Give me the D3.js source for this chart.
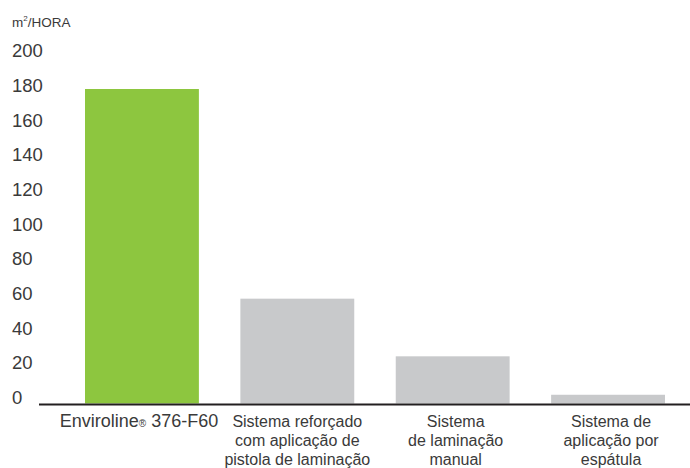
<!DOCTYPE html>
<html>
<head>
<meta charset="utf-8">
<script src="https://cdn.jsdelivr.net/npm/d3@7"></script>
<style>
  body { margin: 0; background: #fff; }
  text { font-family: "Liberation Sans", Arial, sans-serif; fill: #3a3a3a; }
</style>
</head>
<body>
<div id="chart"></div>
<script>
// Data
const categories = ["Enviroline", "Reforcado", "Laminacao", "Espatula"];
const values = [180, 60, 27, 5];
const labelLines = [
    ["Enviroline® 376-F60"],
    ["Sistema reforçado", "com aplicação de", "pistola de laminação"],
    ["Sistema", "de laminação", "manual"],
    ["Sistema de", "aplicação por", "espátula"]
];
const barColors = ["#8dc63f", "#c8c9cb", "#c8c9cb", "#c8c9cb"];
const yTicks = [0, 20, 40, 60, 80, 100, 120, 140, 160, 180, 200];

const width = 690;
const height = 468;

const svg = d3.select("#chart")
    .append("svg")
    .attr("width", width)
    .attr("height", height);

// Scales
const x = d3.scaleBand()
    .domain(categories)
    .range([85, 665])
    .paddingInner(0.267)
    .paddingOuter(0);

const y = d3.scaleLinear()
    .domain([0, 180])
    .range([403.5, 89]);

// the tick labels in the original sit a little off the bar scale
const yLabel = d3.scaleLinear()
    .domain([0, 200])
    .range([397, 50.5]);

// Unit label
const unit = svg.append("text")
    .attr("x", 12)
    .attr("y", 27)
    .attr("font-size", "13.5px");
unit.append("tspan").text("m");
unit.append("tspan").attr("dy", -6).attr("font-size", "8px").text("2");
unit.append("tspan").attr("dy", 6).text("/HORA");

// Y axis (labels only, left aligned)
const yAxis = svg.append("g")
    .attr("transform", "translate(12,0)")
    .call(d3.axisRight(yLabel).tickValues(yTicks).tickSize(0).tickPadding(0));
yAxis.select(".domain").remove();
yAxis.selectAll("text")
    .attr("dy", "0.35em")
    .attr("font-size", "18.5px")
    .attr("fill", "#3a3a3a")
    .style("font-family", '"Liberation Sans", Arial, sans-serif');

// Bars
svg.append("g")
    .selectAll("rect")
    .data(values)
    .join("rect")
    .attr("x", (d, i) => x(categories[i]))
    .attr("y", d => y(d))
    .attr("width", x.bandwidth())
    .attr("height", d => y(0) - y(d))
    .attr("fill", (d, i) => barColors[i]);

// Baseline
svg.append("line")
    .attr("x1", 39)
    .attr("x2", 690)
    .attr("y1", 404.5)
    .attr("y2", 404.5)
    .attr("stroke", "#231f20")
    .attr("stroke-width", 2);

// Category labels
const catLabel = svg.append("g")
    .selectAll("text")
    .data(labelLines)
    .join("text")
    .attr("text-anchor", "middle")
    .attr("font-size", "16px")
    .attr("x", (d, i) => x(categories[i]) + x.bandwidth() / 2);

catLabel.each(function(lines, i) {
    const t = d3.select(this);
    if (i === 0) {
        t.attr("font-size", "18px").attr("y", 427).attr("x", x(categories[i]) + x.bandwidth() / 2 - 3);
        t.append("tspan").text("Enviroline");
        t.append("tspan").attr("font-size", "10px").text("®");
        t.append("tspan").text(" 376-F60");
    } else {
        lines.forEach((line, j) => {
            t.append("tspan")
                .attr("x", x(categories[i]) + x.bandwidth() / 2 + (i > 1 ? 3 : 0))
                .attr("y", 427 + j * 19)
                .text(line);
        });
    }
});
</script>
</body>
</html>
